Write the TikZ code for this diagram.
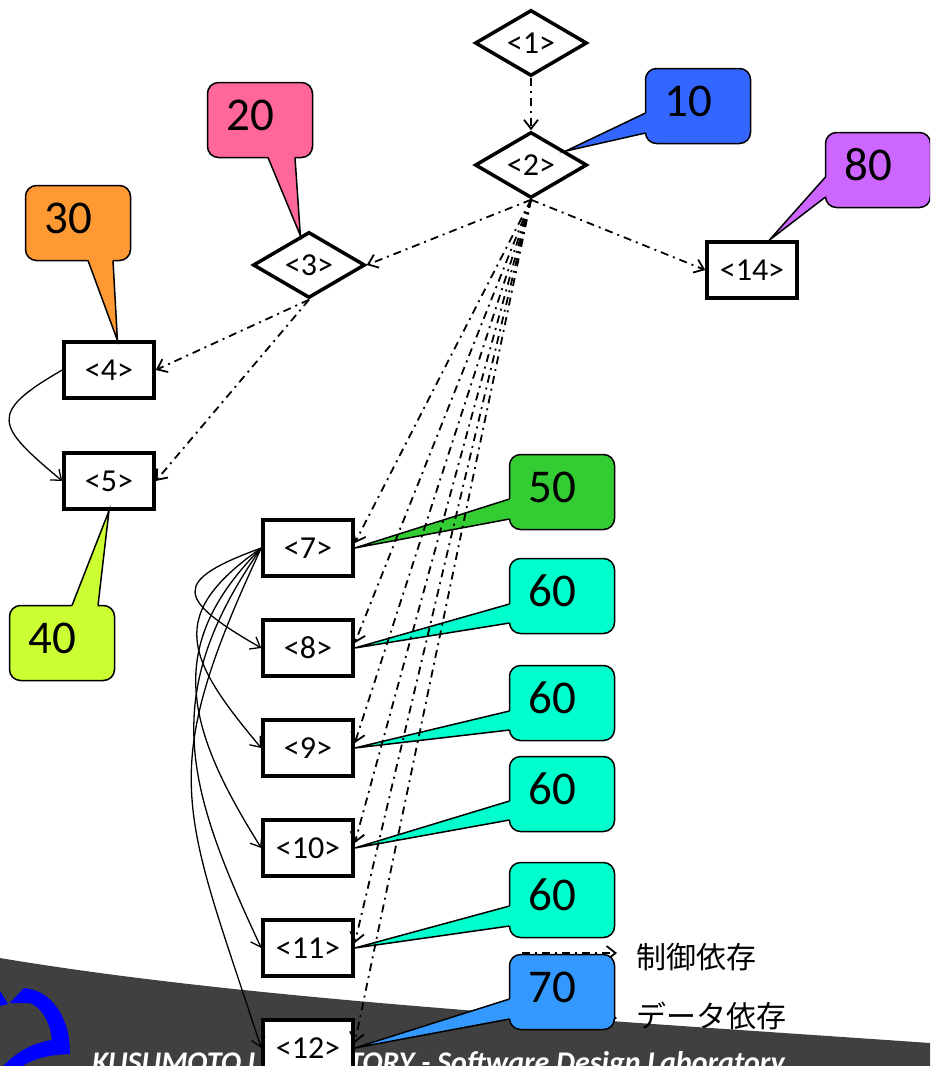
\documentclass[tikz,border=0pt]{standalone}
\usepackage{fontspec}
\setmainfont{Carlito}
\newfontfamily\jpfont{Noto Sans CJK JP}
\usetikzlibrary{shapes.geometric,calc,arrows.meta}
\definecolor{bandgray}{HTML}{404040}
\definecolor{tagblue}{HTML}{3366FF}
\definecolor{tagpink}{HTML}{FF6699}
\definecolor{tagorange}{HTML}{FF9933}
\definecolor{taglime}{HTML}{CCFF33}
\definecolor{taggreen}{HTML}{33CC33}
\definecolor{tagcyan}{HTML}{00FFCC}
\definecolor{tagsky}{HTML}{3399FF}
\definecolor{tagviolet}{HTML}{CC66FF}
\tikzset{
  stmt/.style={draw, line width=3.5pt, fill=white, minimum width=90pt, minimum height=56pt, inner sep=0pt, font=\fontsize{32}{34}\selectfont},
  cond/.style={stmt, diamond, minimum width=112pt, minimum height=66pt, aspect=1.7},
  ctrl/.style={->, line width=1.8pt, dash pattern=on 8pt off 5pt on 2pt off 5pt},
  data/.style={->, line width=1.3pt},
  tagbox/.style={draw, line width=1.5pt, rounded corners=11pt, minimum width=105pt, minimum height=75pt, inner sep=0pt},
  tagtext/.style={inner sep=0pt, font=\fontsize{47}{50}\selectfont},
  legend/.style={anchor=west, inner sep=0pt, font=\jpfont\fontsize{30}{32}\selectfont}
}
\begin{document}
\begin{tikzpicture}[x=1pt, y=-1pt, >={Straight Barb[length=9pt,width=14pt]}]
\useasboundingbox (0,0) rectangle (930,1066);
\clip (0,0) rectangle (930,1066);
% footer band and logo
\fill[bandgray] (0,958) .. controls (250,1000) and (600,1020) .. (930,1043) -- (930,1066) -- (0,1066) -- cycle;
\fill[blue] (0,991) -- (8,1004) -- (0,1006) -- cycle;
\fill[blue] (10,1003) -- (24,988) .. controls (50,990) and (70,1015) .. (70,1054) -- (52,1040) .. controls (50,1022) and (42,1008) .. (30,1003) -- cycle;
\fill[blue] (52,1040) -- (70,1054) .. controls (45,1055) and (28,1060) .. (18,1070) -- (0,1070) .. controls (12,1055) and (30,1043) .. (52,1040) -- cycle;
\node[anchor=base west, inner sep=0pt, text=white, font=\fontsize{30}{32}\selectfont\bfseries\itshape] (foot) at (92,1072) {KUSUMOTO LABORATORY - Software Design Laboratory};

% statements
\node[cond] (n1) at (531,43) {<1>};
\node[cond] (n2) at (531,165) {<2>};
\node[cond] (n3) at (309,265) {<3>};
\node[stmt] (n4) at (109,370) {<4>};
\node[stmt] (n5) at (109,481) {<5>};
\node[stmt] (n14) at (752,270) {<14>};
\foreach \i in {7,...,12}
  \node[stmt] (n\i) at (308,{548+100*(\i-7)}) {<\i>};

% legend
\coordinate (lc1) at (522,953);
\coordinate (lc2) at (617,953);
\coordinate (ld1) at (522,1018);
\coordinate (ld2) at (617,1018);
\draw[ctrl] (lc1) -- (lc2);
\draw[data] (ld1) -- (ld2);
\node[legend] (lgc) at (636,957) {制御依存};
\node[legend] (lgd) at (636,1016) {データ依存};

% callouts
\coordinate (t10) at ($(n2.east)!0.4!(n2.north)$);
\coordinate (t20) at ($(n3.north)!0.15!(n3.west)$);
\coordinate (t30) at ($(n4.north)!0.18!(n4.north east)$);
\coordinate (t80) at (n14.60);
\foreach \id/\txt/\col/\x/\y/\p/\q/\tip in {
    10/10/tagblue/698/106/{-52.5,7}/{-52.5,27}/t10,
    20/20/tagpink/260/120/{8,37.5}/{35,37.5}/t20,
    30/30/tagorange/78/223/{10,37.5}/{35,37.5}/t30,
    40/40/taglime/62/643/{10,-37.5}/{36,-37.5}/n5.south,
    50/50/taggreen/562/492/{-52.5,7}/{-52.5,27}/n7.east,
    61/60/tagcyan/562/596/{-52.5,8}/{-52.5,27}/n8.east,
    62/60/tagcyan/562/703/{-52.5,8}/{-52.5,27}/n9.east,
    63/60/tagcyan/562/794/{-52.5,7}/{-52.5,26}/n10.east,
    64/60/tagcyan/562/900/{-52.5,6}/{-52.5,26}/n11.east,
    70/70/tagsky/562/992/{-52.5,7}/{-52.5,27}/n12.east,
    80/80/tagviolet/878/170/{-52.5,7}/{-52.5,27}/t80}
{
  \node[tagbox, fill=\col] (c\id) at (\x,\y) {};
  \coordinate (b1) at ($(c\id.center)+(\p)$);
  \coordinate (b2) at ($(c\id.center)+(\q)$);
  \fill[\col] ($(b1)!4pt!(c\id.center)$) -- (b1) -- (\tip) -- (b2) -- ($(b2)!4pt!(c\id.center)$) -- cycle;
  \draw[line width=1.5pt] (b1) -- (\tip) -- (b2);
  \node[tagtext] (v\id) at ($(c\id.center)+(-10,-5)$) {\txt};
}

% dependences
\draw[ctrl] (n1.south) -- (n2.north);
\draw[ctrl] (n2.south) -- (n3.east);
\draw[ctrl] (n2.south) -- (n14.west);
\draw[ctrl] (n3.south) -- (n4.east);
\draw[ctrl] (n3.south) -- (n5.east);
\foreach \i in {7,...,12}
  \draw[ctrl] (n2.south) -- (n\i.6);
\draw[data] (n4.west) to[out=210, in=140, looseness=2] (n5.west);
\foreach \i/\o/\a/\l in {8/200/150/2.5, 9/215/130/1.5, 10/225/122/1.2, 11/235/115/1.15, 12/245/108/1.3}
  \draw[data] (n7.west) to[out=\o, in=\a, looseness=\l] (n\i.west);
\end{tikzpicture}
\end{document}
